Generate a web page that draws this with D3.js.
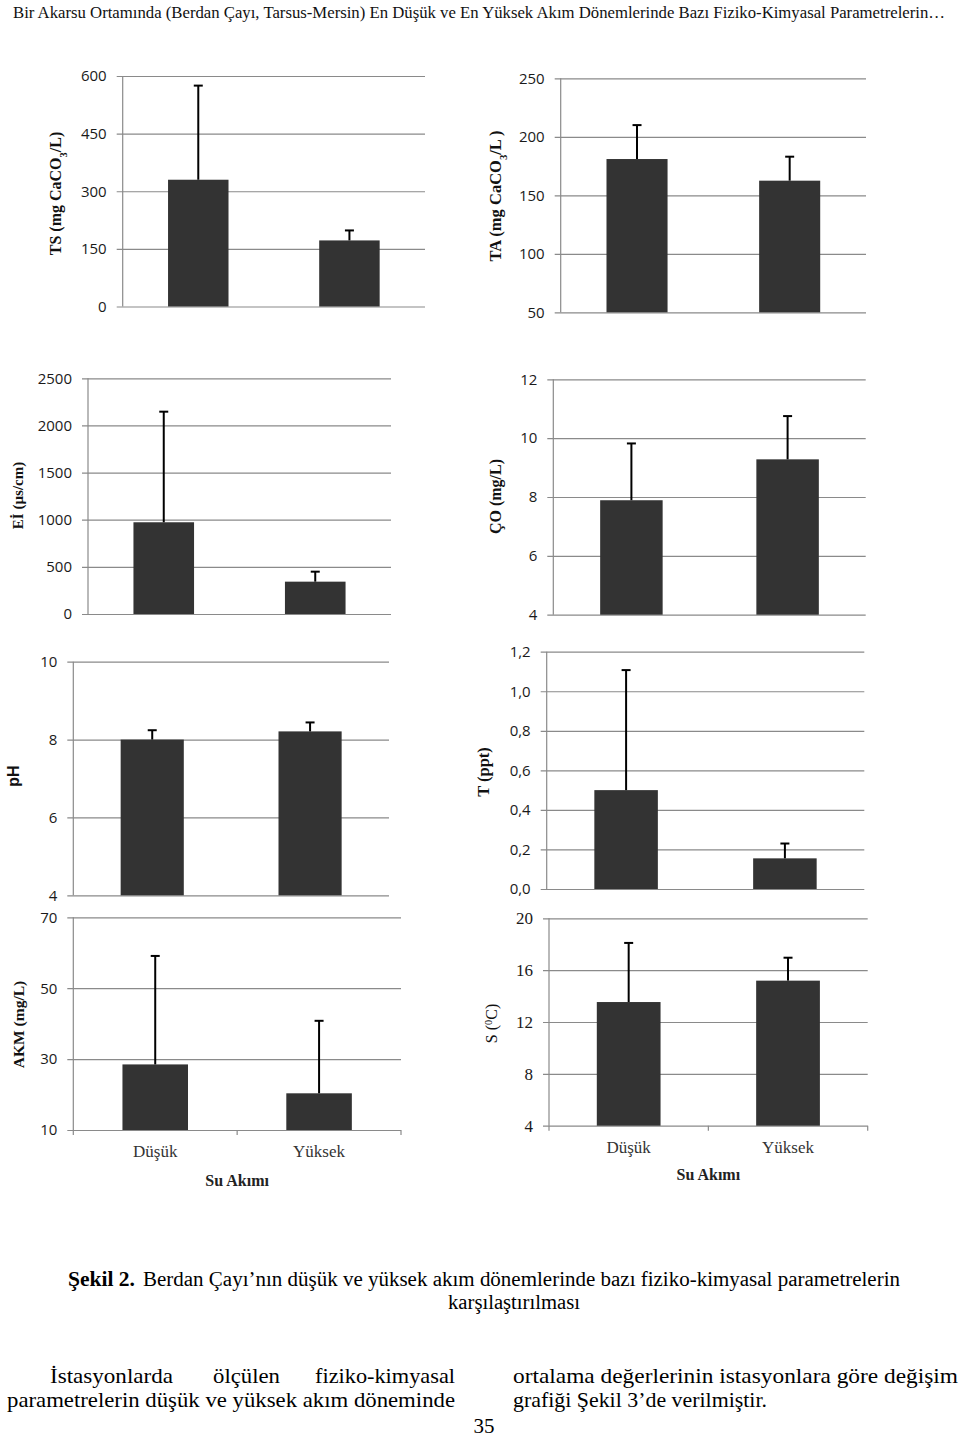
<!DOCTYPE html>
<html>
<head>
<meta charset="utf-8">
<script src="https://cdn.jsdelivr.net/npm/d3@7"></script>
<style>
  html, body { margin: 0; padding: 0; background: #fff; }
  svg { display: block; }
</style>
</head>
<body>
<script>
// ---------- DATA ----------
const categories = ["Düşük", "Yüksek"];

const tsMeans = [330, 172];
const tsErrors = [245, 26];
const tsTicks = [0, 150, 300, 450, 600];

const taMeans = [181, 162.5];
const taErrors = [29, 20.5];
const taTicks = [50, 100, 150, 200, 250];

const eiMeans = [973, 343];
const eiErrors = [1173, 106];
const eiTicks = [0, 500, 1000, 1500, 2000, 2500];

const coMeans = [7.89, 9.28];
const coErrors = [1.93, 1.47];
const coTicks = [4, 6, 8, 10, 12];

const phMeans = [8.0, 8.21];
const phErrors = [0.24, 0.23];
const phTicks = [4, 6, 8, 10];

const tMeans = [0.5, 0.155];
const tErrors = [0.607, 0.075];
const tTicks = [0, 0.2, 0.4, 0.6, 0.8, 1.0, 1.2];

const akmMeans = [28.5, 20.35];
const akmErrors = [30.6, 20.45];
const akmTicks = [10, 30, 50, 70];

const sMeans = [13.54, 15.19];
const sErrors = [4.56, 1.77];
const sTicks = [4, 8, 12, 16, 20];

const xAxisTitle = "Su Akımı";
const headerText = "Bir Akarsu Ortamında (Berdan Çayı, Tarsus-Mersin) En Düşük ve En Yüksek Akım Dönemlerinde Bazı Fiziko-Kimyasal Parametrelerin…";

// ---------- LAYOUT ----------
const W = 960, H = 1440;
const svg = d3.select("body").append("svg").attr("width", W).attr("height", H);
svg.append("rect").attr("width", W).attr("height", H).attr("fill", "#fff");

const SERIF = "'Liberation Serif', 'Times New Roman', serif";
const SANS = "'Open Sans', 'Liberation Sans', sans-serif";

const commaFmt = v => d3.format(".1f")(v).replace(".", ",");

const panels = [
  { means: tsMeans, errors: tsErrors, ticks: tsTicks, x0: 122.7, x1: 425, yTop: 76, yBot: 306.5,
    title: [["TS (mg CaCO", 0], ["3", 1], ["/L)", 0]], tx: 55, ty: 193.5, tsize: 16, tbold: true },
  { means: taMeans, errors: taErrors, ticks: taTicks, x0: 560.7, x1: 866, yTop: 78.3, yBot: 312.3,
    title: [["TA (mg CaCO", 0], ["3", 1], ["/L )", 0]], tx: 495, ty: 196, tsize: 16.5, tbold: true },
  { means: eiMeans, errors: eiErrors, ticks: eiTicks, x0: 88, x1: 391, yTop: 378.3, yBot: 614,
    title: [["Eİ (µs/cm)", 0]], tx: 18, ty: 495.5, tsize: 15, tbold: true },
  { means: coMeans, errors: coErrors, ticks: coTicks, x0: 553.3, x1: 865.7, yTop: 379.3, yBot: 614.7,
    title: [["ÇO (mg/L)", 0]], tx: 495, ty: 496.5, tsize: 16, tbold: true },
  { means: phMeans, errors: phErrors, ticks: phTicks, x0: 73.3, x1: 389, yTop: 661.7, yBot: 895.3,
    title: [["pH", 0]], tx: 13, ty: 776, tsize: 16, tbold: true, tsans: true },
  { means: tMeans, errors: tErrors, ticks: tTicks, fmt: commaFmt, x0: 546.7, x1: 864.3, yTop: 651.7, yBot: 889,
    title: [["T (ppt)", 0]], tx: 483, ty: 772, tsize: 16.5, tbold: true },
  { means: akmMeans, errors: akmErrors, ticks: akmTicks, x0: 73.3, x1: 401, yTop: 917.3, yBot: 1130,
    title: [["AKM (mg/L)", 0]], tx: 19, ty: 1024.5, tsize: 15.5, tbold: true,
    cats: true, catY: 1157, catTitleY: 1186 },
  { means: sMeans, errors: sErrors, ticks: sTicks, x0: 549, x1: 867.7, yTop: 918.3, yBot: 1125.7,
    title: [["S (", 0], ["0", 2], ["C)", 0]], tx: 491, ty: 1023.5, tsize: 16, tbold: false,
    serifTicks: true, cats: true, catY: 1153, catTitleY: 1180 }
];

function drawPanel(p) {
  const g = svg.append("g");
  const x = d3.scaleBand().domain(categories).range([p.x0, p.x1]).paddingInner(0.6).paddingOuter(0.3);
  const y = d3.scaleLinear().domain([p.ticks[0], p.ticks[p.ticks.length - 1]]).range([p.yBot, p.yTop]);
  const plotW = p.x1 - p.x0;

  // gridlines + tick labels
  const axis = d3.axisLeft(y)
    .tickValues(p.ticks)
    .tickSize(-(plotW + 6))
    .tickSizeOuter(0)
    .tickPadding(10)
    .tickFormat(p.fmt || d3.format("d"));
  const ag = g.append("g").attr("transform", `translate(${p.x0 - 6},0)`).call(axis);
  ag.select(".domain").remove();
  ag.selectAll(".tick line").attr("stroke", "#8a8a8a").attr("stroke-width", 1.2);
  ag.selectAll(".tick text")
    .attr("fill", "#1a1a1a")
    .style("font-family", p.serifTicks ? SERIF : SANS)
    .style("font-size", p.serifTicks ? "17px" : "15px");

  // vertical axis line
  g.append("line")
    .attr("x1", p.x0).attr("x2", p.x0)
    .attr("y1", y.range()[1]).attr("y2", y.range()[0])
    .attr("stroke", "#8a8a8a").attr("stroke-width", 1.2);

  // bars
  const data = categories.map((c, i) => ({ c, m: p.means[i], e: p.errors[i] }));
  g.selectAll("rect.bar").data(data).join("rect")
    .attr("class", "bar")
    .attr("x", d => x(d.c))
    .attr("width", x.bandwidth())
    .attr("y", d => y(d.m))
    .attr("height", d => y(p.ticks[0]) - y(d.m))
    .attr("fill", "#333333");

  // error bars
  const cx = d => x(d.c) + x.bandwidth() / 2;
  g.selectAll("line.err").data(data).join("line")
    .attr("class", "err")
    .attr("x1", cx).attr("x2", cx)
    .attr("y1", d => y(d.m)).attr("y2", d => y(d.m + d.e))
    .attr("stroke", "#000").attr("stroke-width", 2);
  g.selectAll("line.cap").data(data).join("line")
    .attr("class", "cap")
    .attr("x1", d => cx(d) - 4.5).attr("x2", d => cx(d) + 4.5)
    .attr("y1", d => y(d.m + d.e)).attr("y2", d => y(d.m + d.e))
    .attr("stroke", "#000").attr("stroke-width", 2);

  // y-axis title
  const t = svg.append("text")
    .attr("transform", `translate(${p.tx},${p.ty}) rotate(-90)`)
    .attr("text-anchor", "middle")
    .attr("dy", "0.35em")
    .attr("fill", "#111")
    .style("font-family", p.tsans ? "'Liberation Sans', Arial, sans-serif" : SERIF)
    .style("font-weight", p.tbold ? "bold" : "normal")
    .style("font-size", p.tsize + "px");
  p.title.forEach(([txt, kind]) => {
    const ts = t.append("tspan").text(txt);
    if (kind === 1) ts.attr("baseline-shift", "sub").style("font-size", (p.tsize * 0.65) + "px");
    if (kind === 2) ts.attr("baseline-shift", "super").style("font-size", (p.tsize * 0.65) + "px");
  });

  // category axis
  if (p.cats) {
    const tickXs = [p.x0, (p.x0 + p.x1) / 2, p.x1];
    g.selectAll("line.ctick").data(tickXs).join("line")
      .attr("class", "ctick")
      .attr("x1", d => d).attr("x2", d => d)
      .attr("y1", p.yBot).attr("y2", p.yBot + 5)
      .attr("stroke", "#8a8a8a").attr("stroke-width", 1.2);
    g.selectAll("text.cat").data(categories).join("text")
      .attr("class", "cat")
      .attr("x", d => x(d) + x.bandwidth() / 2)
      .attr("y", p.catY)
      .attr("text-anchor", "middle")
      .attr("fill", "#333")
      .style("font-family", SERIF)
      .style("font-size", "17px")
      .text(d => d);
    g.append("text")
      .attr("x", (p.x0 + p.x1) / 2)
      .attr("y", p.catTitleY)
      .attr("text-anchor", "middle")
      .attr("fill", "#222")
      .style("font-family", SERIF)
      .style("font-weight", "bold")
      .style("font-size", "16px")
      .text(xAxisTitle);
  }
}

panels.forEach(drawPanel);

// ---------- PAGE TEXT ----------
svg.append("text")
  .attr("x", 13).attr("y", 18)
  .attr("textLength", 932).attr("lengthAdjust", "spacingAndGlyphs")
  .attr("fill", "#111")
  .style("font-family", SERIF).style("font-size", "16px")
  .text(headerText);

function serifText(x, y, txt, len, size, opts = {}) {
  const t = svg.append("text")
    .attr("x", x).attr("y", y)
    .attr("fill", "#000")
    .attr("text-anchor", opts.anchor || "start")
    .style("font-family", SERIF)
    .style("font-size", size + "px")
    .style("font-weight", opts.bold ? "bold" : "normal")
    .text(txt);
  if (len) t.attr("textLength", len).attr("lengthAdjust", "spacingAndGlyphs");
  return t;
}

serifText(68, 1286, "Şekil 2.", 67, 20, { bold: true });
serifText(143, 1286, "Berdan Çayı’nın düşük ve yüksek akım dönemlerinde bazı fiziko-kimyasal parametrelerin", 757, 20);
serifText(448, 1309, "karşılaştırılması", 132, 20);

serifText(50, 1383, "İstasyonlarda", 123, 22);
serifText(213, 1383, "ölçülen", 67, 22);
serifText(315, 1383, "fiziko-kimyasal", 140, 22);
serifText(7, 1407, "parametrelerin düşük ve yüksek akım döneminde", 448, 22);
serifText(513, 1383, "ortalama değerlerinin istasyonlara göre değişim", 445, 22);
serifText(513, 1407, "grafiği Şekil 3’de verilmiştir.", 254, 22);
serifText(484, 1433, "35", null, 21, { anchor: "middle" });
</script>
</body>
</html>
